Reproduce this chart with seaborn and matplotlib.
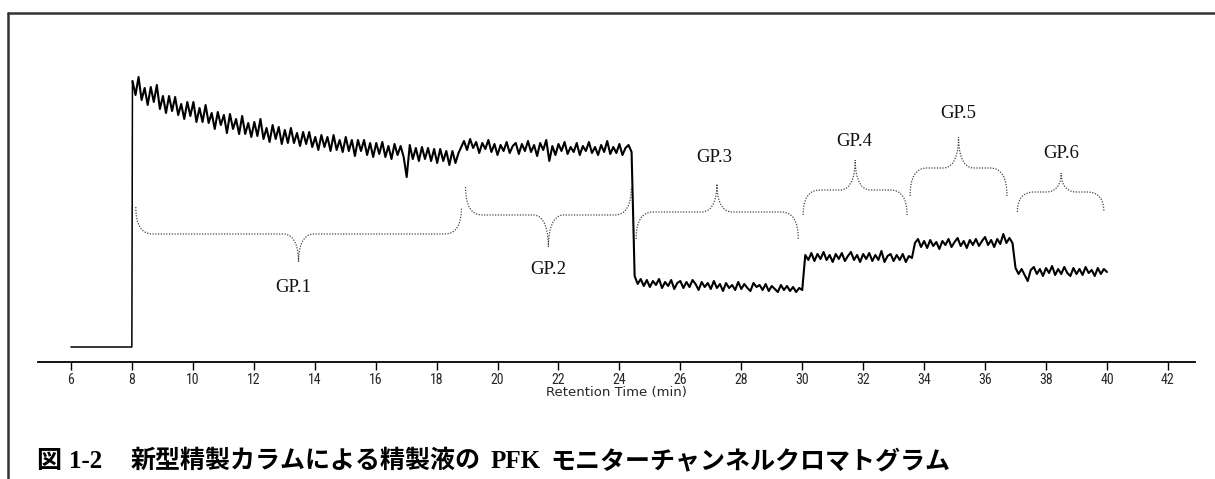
import numpy as np
import pandas as pd
import matplotlib
matplotlib.use("Agg")
import matplotlib.pyplot as plt
import seaborn as sns
from matplotlib.path import Path
from matplotlib.patches import PathPatch
from matplotlib.lines import Line2D
from matplotlib import font_manager as fm

W, H, DPI = 1215, 479, 100

# ---------------- data (signal, arbitrary units) ----------------
baseline_time = [6.0, 8.0]
baseline_signal = [0, 0]

gp1_start = 8.02
gp1_signal = [266, 252, 270, 247, 259, 242, 260, 245, 262, 238,
              251, 234, 251, 236, 250, 232, 243, 228, 245, 231,
              245, 225, 239, 225, 242, 224, 234, 218, 235, 222,
              232, 214, 233, 218, 228, 213, 231, 213, 224, 210,
              225, 211, 228, 208, 219, 205, 222, 208, 220, 203,
              217, 204, 219, 204, 214, 201, 215, 203, 215, 200,
              210, 197, 212, 200, 210, 196, 212, 197, 207, 195,
              210, 196, 207, 191, 207, 196, 207, 192, 204, 190,
              204, 193, 205, 190, 201, 188, 203, 192, 201, 190,
              170, 202, 188, 199, 186, 200, 188, 199, 186, 198,
              184, 198, 186, 196, 182, 196, 184, 194]

gp2_start = 18.9
gp2_signal = [206, 197, 208, 199, 205, 194, 204, 198, 207, 195,
              203, 192, 202, 196, 205, 194, 201, 204, 193, 203,
              196, 206, 195, 202, 191, 204, 197, 207, 186, 201,
              192, 203, 196, 205, 193, 200, 195, 204, 192, 201,
              196, 205, 194, 200, 192, 202, 195, 206, 193, 200,
              194, 203, 192, 199, 202, 195]

gp3_start = 24.5
gp3_signal = [71, 63, 68, 61, 67, 60, 66, 62, 68, 59,
              65, 61, 67, 58, 64, 66, 59, 65, 60, 67,
              63, 57, 65, 60, 64, 58, 66, 59, 63, 56,
              64, 59, 62, 57, 65, 58, 63, 59, 56, 64,
              60, 62, 57, 63, 56, 61, 58, 55, 62, 57,
              61, 56, 60, 55, 59, 57]

gp4_start = 30.1
gp4_signal = [92, 87, 94, 86, 93, 88, 95, 87, 92, 85,
              93, 88, 94, 86, 91, 95, 87, 92, 85, 93,
              88, 94, 86, 92, 87, 96, 85, 91, 93, 86,
              92, 87, 93, 85, 91, 89]

gp5_start = 33.7
gp5_signal = [104, 108, 100, 106, 99, 107, 101, 105, 98, 106,
              102, 108, 100, 105, 109, 101, 106, 99, 107, 102,
              108, 101, 106, 110, 102, 107, 100, 108, 103, 113,
              104, 109, 104]

gp6_start = 37.0
gp6_signal = [79, 73, 78, 72, 66, 77, 80, 73, 78, 71,
              79, 74, 81, 72, 78, 73, 80, 74, 71, 79,
              73, 78, 72, 80, 74, 77, 71, 79, 73, 78, 75]

sample_step = 0.1

x_ticks = list(range(6, 43, 2))
x_label = "Retention Time (min)"
group_labels = ["GP.1", "GP.2", "GP.3", "GP.4", "GP.5", "GP.6"]
title_pieces = ["図", "1-2", "新型精製カラムによる精製液の", "PFK", "モニターチャンネルクロマトグラム"]

# ---------------- build table ----------------
times = list(baseline_time)
signal = list(baseline_signal)
part = ["base"] * len(baseline_time)
for start, vals in [(gp1_start, gp1_signal), (gp2_start, gp2_signal), (gp3_start, gp3_signal),
                    (gp4_start, gp4_signal), (gp5_start, gp5_signal), (gp6_start, gp6_signal)]:
    times += list(start + sample_step * np.arange(len(vals)))
    signal += list(vals)
    part += ["run"] * len(vals)
df = pd.DataFrame({"time": times, "signal": signal, "part": part})
# the step at 8 min belongs to the thin baseline segment
base_df = pd.concat([df[df.part == "base"], df[df.part == "run"].iloc[:1]])
run_df = df[df.part == "run"]

# ---------------- style ----------------
sns.set_theme(style="white")
plt.rcParams["font.family"] = ["DejaVu Sans"]


def first_font(names, default):
    for name in names:
        try:
            fm.findfont(name, fallback_to_default=False)
            return name
        except Exception:
            pass
    return default


tick_font = first_font(["Liberation Sans Narrow", "DejaVu Sans Condensed", "Roboto Condensed"],
                       "DejaVu Sans")
serif_font = first_font(["Liberation Serif"], "DejaVu Serif")
cjk_font = "Noto Sans CJK JP"
condensed = tick_font == "DejaVu Sans"

fig = plt.figure(figsize=(W / DPI, H / DPI), dpi=DPI)
ax = fig.add_axes([38 / W, 117 / H, 1157 / W, 342 / H])

sns.lineplot(data=base_df, x="time", y="signal", sort=False, estimator=None,
             color="black", lw=1.1, ax=ax)
sns.lineplot(data=run_df, x="time", y="signal", sort=False, estimator=None,
             color="black", lw=1.5, ax=ax)

ax.set_xlim(4.92, 42.89)
ax.set_ylim(-15, 327)
for s in ["left", "right", "top"]:
    ax.spines[s].set_visible(False)
ax.spines["bottom"].set_color("black")
ax.spines["bottom"].set_linewidth(1.3)
ax.set_yticks([])
ax.set_xticks(x_ticks)
ax.set_xticklabels([str(v) for v in x_ticks], fontfamily=tick_font, fontsize=10)
if condensed:
    for lab in ax.get_xticklabels():
        lab.set_fontstretch("condensed")
ax.tick_params(axis="x", direction="out", length=6, width=1, color="black", pad=2,
               bottom=True)
ax.set_xlabel(x_label, fontfamily="DejaVu Sans", fontsize=9.5, labelpad=-1)
ax.set_ylabel("")

# ---------------- braces ----------------
brace_layout = [
    # t0, t1, s_end, s_flat, t_tip, s_tip, label_t, label_s
    (8.13, 18.82, 140, 113, 13.47, 85, 13.3, 60),
    (18.95, 24.39, 160, 132, 21.67, 100, 21.65, 78),
    (24.55, 29.87, 108, 135, 27.2, 163, 27.1, 189),
    (30.03, 33.44, 132, 157, 31.74, 187, 31.7, 206),
    (33.54, 36.72, 151, 179, 35.13, 210, 35.13, 234),
    (37.06, 39.9, 135, 155, 38.5, 174, 38.5, 194),
]
rc, rt = 0.55, 0.5
for (t0, t1, se, sf, tt, st, lt, ls), lab in zip(brace_layout, group_labels):
    mid = sf + 0.55 * (st - sf)
    verts = [(t0, se), (t0, sf), (t0 + rc, sf),
             (tt - rt, sf),
             (tt - rt * 0.2, sf), (tt, mid), (tt, st),
             (tt, mid), (tt + rt * 0.2, sf), (tt + rt, sf),
             (t1 - rc, sf),
             (t1, sf), (t1, se)]
    codes = [Path.MOVETO, Path.CURVE3, Path.CURVE3,
             Path.LINETO,
             Path.CURVE4, Path.CURVE4, Path.CURVE4,
             Path.CURVE4, Path.CURVE4, Path.CURVE4,
             Path.LINETO,
             Path.CURVE3, Path.CURVE3]
    ax.add_patch(PathPatch(Path(verts, codes), fill=False, edgecolor="#444444",
                           lw=0.9, linestyle=(0, (1, 1.2))))
    ax.text(lt, ls, lab, fontfamily=serif_font, fontsize=13.5, ha="center", va="center",
            color="#111111")

# ---------------- figure frame ----------------
fig.add_artist(Line2D([8 / W, 1.0], [1 - 13 / H, 1 - 13 / H], transform=fig.transFigure,
                      color="#333333", lw=1.8))
fig.add_artist(Line2D([8 / W, 8 / W], [0.0, 1 - 13 / H], transform=fig.transFigure,
                      color="#333333", lw=1.8))

# ---------------- title ----------------
renderer = fig.canvas.get_renderer()
fams = [cjk_font, serif_font, cjk_font, serif_font, cjk_font]
gaps = [8, 28, 10, 10, 0]
x = 36
for txt, fam, gap in zip(title_pieces, fams, gaps):
    t = fig.text(x / W, 11 / H, txt, fontsize=18, fontweight="bold", family=fam,
                 ha="left", va="baseline", color="black")
    bb = t.get_window_extent(renderer)
    x = bb.x1 + gap

fig.savefig("out.png", dpi=DPI)
